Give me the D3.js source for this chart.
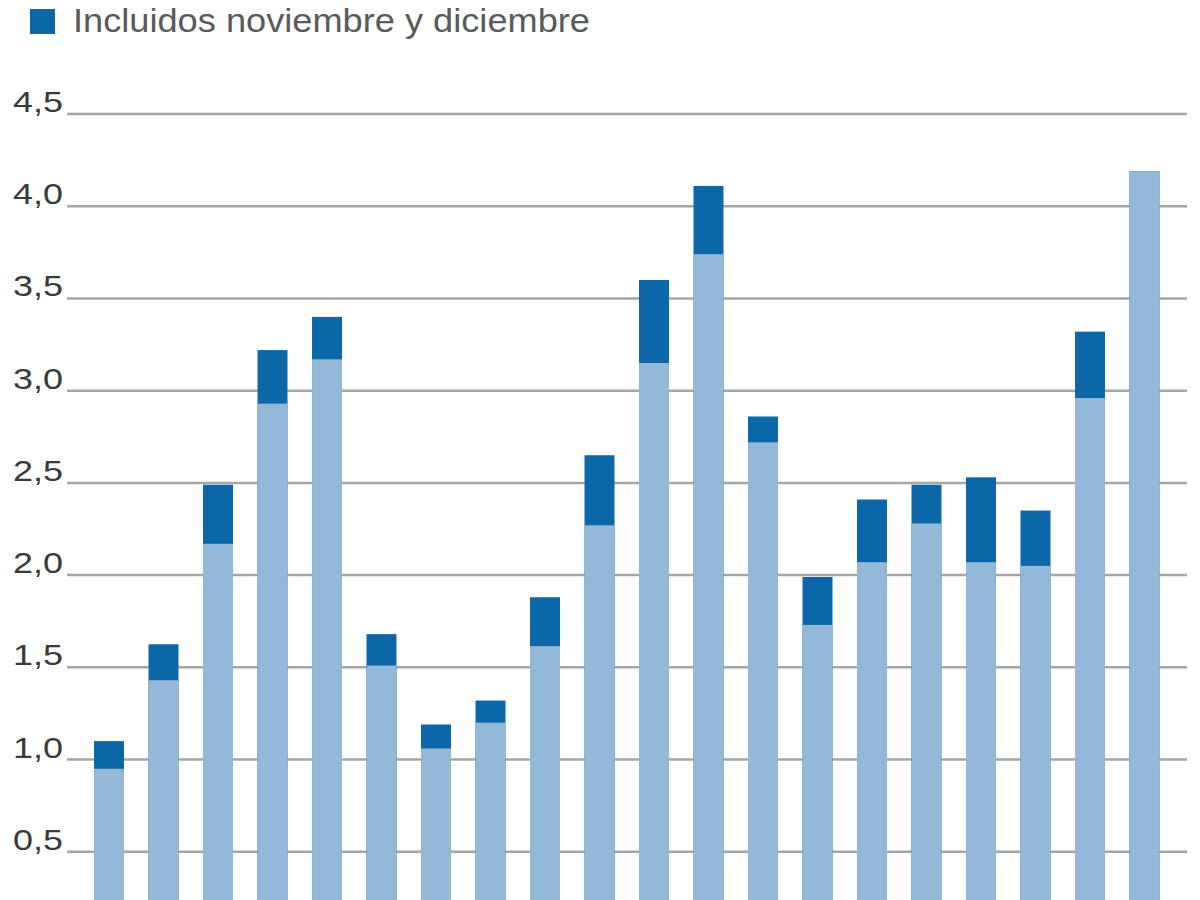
<!DOCTYPE html>
<html lang="es">
<head>
<meta charset="UTF-8">
<title>Incluidos noviembre y diciembre</title>
<script src="https://cdn.jsdelivr.net/npm/d3@7"></script>
<style>
  html, body { margin: 0; padding: 0; background: #fff; }
  svg { display: block; }
</style>
</head>
<body>
<svg id="chart" width="1200" height="900"></svg>
<script>
    // categorias (las etiquetas del eje x quedan fuera del recorte)
    let categorias = d3.range(1, 21).map(String);
    // sin noviembre y diciembre (barra clara)
    let sinNovDic = [0.95, 1.43, 2.17, 2.93, 3.17, 1.51, 1.06, 1.20, 1.615, 2.27,
                     3.15, 3.74, 2.72, 1.73, 2.07, 2.28, 2.07, 2.05, 2.96, 4.19];
    // incluidos noviembre y diciembre (total)
    let conNovDic = [1.10, 1.625, 2.49, 3.22, 3.40, 1.68, 1.19, 1.32, 1.88, 2.65,
                     3.60, 4.11, 2.86, 1.99, 2.41, 2.49, 2.53, 2.35, 3.32, 4.19];
    let ticks = [0.5, 1.0, 1.5, 2.0, 2.5, 3.0, 3.5, 4.0, 4.5];

    let svg = d3.select('#chart');
    let claro = '#94b8d8', oscuro = '#0b67a7';
    let fuente = 'Liberation Sans, Arial, sans-serif';

    let x = d3.scaleBand().domain(categorias).range([69.5, 1184]).padding(0.45);
    let y = d3.scaleLinear().domain([0, 4.5]).range([944, 114]);
    let fmt = d => d3.format('.1f')(d).replace('.', ',');

    // lineas de la reticula
    svg.append('g').selectAll('line').data(ticks).enter()
        .append('line')
        .attr('x1', 67).attr('x2', 1187)
        .attr('y1', d => y(d)).attr('y2', d => y(d))
        .attr('stroke', '#a6a6a6').attr('stroke-width', 2.5);

    svg.append('g').selectAll('text').data(ticks).enter()
        .append('text')
        .attr('x', 13).attr('y', d => y(d) - 2)
        .attr('font-family', fuente)
        .attr('font-size', 30)
        .attr('textLength', 50)
        .attr('lengthAdjust', 'spacingAndGlyphs')
        .attr('fill', '#3a3a3a')
        .text(fmt);

    let datos = categorias.map((c, i) => ({c: c, base: sinNovDic[i], total: conNovDic[i]}));

    let barras = svg.append('g');
    barras.selectAll('rect.total').data(datos).enter()
        .append('rect').attr('class', 'total')
        .attr('x', d => x(d.c)).attr('width', x.bandwidth())
        .attr('y', d => y(d.total))
        .attr('height', d => y(0) - y(d.total))
        .attr('fill', oscuro);
    barras.selectAll('rect.base').data(datos).enter()
        .append('rect').attr('class', 'base')
        .attr('x', d => x(d.c)).attr('width', x.bandwidth())
        .attr('y', d => y(d.base))
        .attr('height', d => y(0) - y(d.base))
        .attr('fill', claro);

    // leyenda
    svg.append('rect').attr('x', 30).attr('y', 9).attr('width', 25).attr('height', 25)
        .attr('fill', oscuro);
    svg.append('text').attr('x', 73).attr('y', 32)
        .attr('font-family', fuente)
        .attr('font-size', 34)
        .attr('textLength', 517)
        .attr('lengthAdjust', 'spacingAndGlyphs')
        .attr('fill', '#5a5a5a')
        .text('Incluidos noviembre y diciembre');
</script>
</body>
</html>
